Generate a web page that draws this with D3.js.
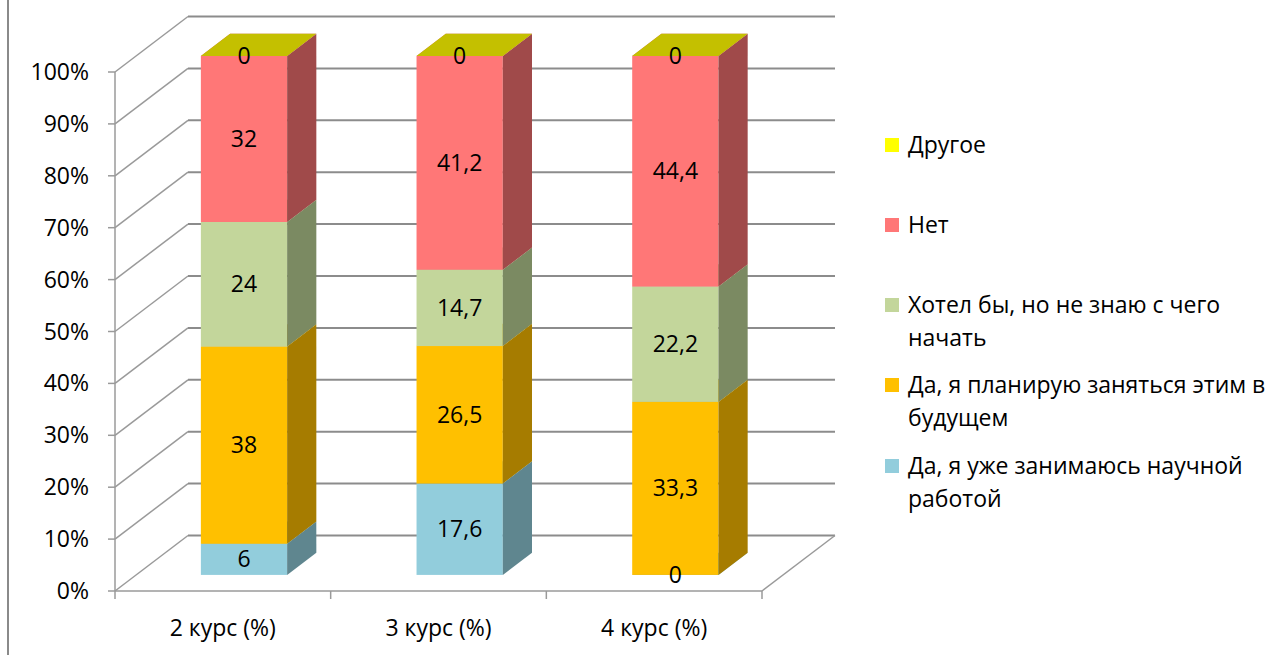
<!DOCTYPE html>
<html><head><meta charset="utf-8">
<script src="https://cdn.jsdelivr.net/npm/d3@7"></script>
<style>
html,body{margin:0;padding:0;background:#fff;}
svg{display:block;font-family:"Open Sans",sans-serif;}
</style></head>
<body><svg id="c" width="1283" height="655"></svg>
<script>
const categories = ["2 курс (%)", "3 курс (%)", "4 курс (%)"];
const seriesNames = ["Да, я уже занимаюсь научной работой", "Да, я планирую заняться этим в будущем", "Хотел бы, но не знаю с чего начать", "Нет", "Другое"];
const legendLines = [["Да, я уже занимаюсь научной", "работой"], ["Да, я планирую заняться этим в", "будущем"], ["Хотел бы, но не знаю с чего", "начать"], ["Нет"], ["Другое"]];
const s1 = [6, 17.6, 0];
const s2 = [38, 26.5, 33.3];
const s3 = [24, 14.7, 22.2];
const s4 = [32, 41.2, 44.4];
const s5 = [0, 0, 0];
const yTicks = [0, 10, 20, 30, 40, 50, 60, 70, 80, 90, 100];
const frontColors = ["#92CDDC", "#FFC000", "#C3D69B", "#FF7777", "#FFFF00"];
const sideColors = ["#5F868F", "#A67C00", "#7B8A62", "#A04A4A", "#A0A000"];
const topColors = ["#7FB3C0", "#DDA700", "#A9BA86", "#D86565", "#C4C000"];

const series = [s1, s2, s3, s4, s5];
const svg = d3.select("#c");
const DX = 73, DY = -55.5;
const fFront = 0.29, fBack = 0.69;
const FS = 23;
const x = d3.scaleBand().domain(categories).range([115, 762]).paddingInner(0).paddingOuter(0);
const y = d3.scaleLinear().domain([0, 100]).range([591, 72]);
const grid = "#9a9a9a";
const fmt = v => String(v).replace(".", ",");

// left border
svg.append("line").attr("x1", 8).attr("x2", 8).attr("y1", 0).attr("y2", 655).attr("stroke", "#8a8a8a").attr("stroke-width", 2);

// side wall diagonals
svg.append("g").selectAll("line").data(yTicks).join("line")
  .attr("x1", 115).attr("y1", d => y(d)).attr("x2", 115 + DX).attr("y2", d => y(d) + DY)
  .attr("stroke", grid).attr("stroke-width", 1.5);
// back wall gridlines
svg.append("g").selectAll("line").data(yTicks).join("line")
  .attr("x1", 115 + DX).attr("y1", d => y(d) + DY).attr("x2", 762 + DX).attr("y2", d => y(d) + DY)
  .attr("stroke", "#8c8c8c").attr("stroke-width", 2);
// floor right edge
svg.append("line").attr("x1", 762).attr("y1", y(0)).attr("x2", 762 + DX).attr("y2", y(0) + DY).attr("stroke", grid).attr("stroke-width", 1.5);
// front axis
svg.append("line").attr("x1", 115).attr("y1", y(0)).attr("x2", 115).attr("y2", y(100)).attr("stroke", grid).attr("stroke-width", 1.5);
svg.append("g").selectAll("line").data(yTicks).join("line")
  .attr("x1", 108).attr("x2", 115).attr("y1", d => y(d)).attr("y2", d => y(d)).attr("stroke", grid).attr("stroke-width", 1.5);
svg.append("g").selectAll("text").data(yTicks).join("text")
  .attr("x", 89).attr("y", d => y(d)).attr("dy", "0.35em").attr("text-anchor", "end")
  .attr("font-size", FS).attr("fill", "#000").text(d => d + "%");
// floor front edge + category ticks
svg.append("line").attr("x1", 115).attr("y1", y(0)).attr("x2", 762).attr("y2", y(0)).attr("stroke", grid).attr("stroke-width", 1.5);
const catTickX = categories.map(c => x(c)).concat([x.range()[1]]);
svg.append("g").selectAll("line").data(catTickX).join("line")
  .attr("x1", d => d).attr("x2", d => d).attr("y1", y(0)).attr("y2", y(0) + 8).attr("stroke", grid).attr("stroke-width", 1.5);
svg.append("g").selectAll("text").data(categories).join("text")
  .attr("x", d => x(d) + x.bandwidth() / 2).attr("y", 628).attr("dy", "0.35em").attr("text-anchor", "middle")
  .attr("font-size", FS).text(d => d);

// bars
const bw = x.bandwidth() * 0.4;
const gBars = svg.append("g");
const labels = [];
categories.forEach((c, ci) => {
  const total = d3.sum(series, s => s[ci]);
  let cum = 0;
  const bx = x(c) + (x.bandwidth() - bw) / 2 + fFront * DX;
  const oy = fFront * DY;
  const dxb = (fBack - fFront) * DX, dyb = (fBack - fFront) * DY;
  series.forEach((s, si) => {
    const v0 = cum / total * 100, v1 = (cum + s[ci]) / total * 100;
    cum += s[ci];
    const yb = y(v0) + oy, yt = y(v1) + oy;
    if (yb - yt > 0.01) {
      gBars.append("rect").attr("x", bx).attr("y", yt).attr("width", bw).attr("height", yb - yt).attr("fill", frontColors[si]);
      gBars.append("path").attr("d", `M${bx + bw},${yb}L${bx + bw + dxb},${yb + dyb}L${bx + bw + dxb},${yt + dyb}L${bx + bw},${yt}Z`).attr("fill", sideColors[si]);
    }
    gBars.append("path").attr("d", `M${bx},${yt}L${bx + bw},${yt}L${bx + bw + dxb},${yt + dyb}L${bx + dxb},${yt + dyb}Z`).attr("fill", topColors[si]);
    labels.push({x: bx + bw / 2, y: (yb + yt) / 2, t: fmt(s[ci])});
  });
});
svg.append("g").selectAll("text").data(labels).join("text")
  .attr("x", d => d.x).attr("y", d => d.y).attr("dy", "0.35em").attr("text-anchor", "middle")
  .attr("font-size", FS).attr("fill", "#000").text(d => d.t);

// legend
const legendY = [466, 385, 305, 225, 145];
const lg = svg.append("g");
series.forEach((s, si) => {
  lg.append("rect").attr("x", 885).attr("y", legendY[si] - 7).attr("width", 14).attr("height", 14).attr("fill", frontColors[si]);
  lg.append("text").attr("x", 908).attr("y", legendY[si]).attr("font-size", FS)
    .selectAll("tspan").data(legendLines[si]).join("tspan")
    .attr("x", 908).attr("y", (d, i) => legendY[si] + i * 32.5).attr("dy", "0.35em").text(d => d);
});
</script></body></html>
